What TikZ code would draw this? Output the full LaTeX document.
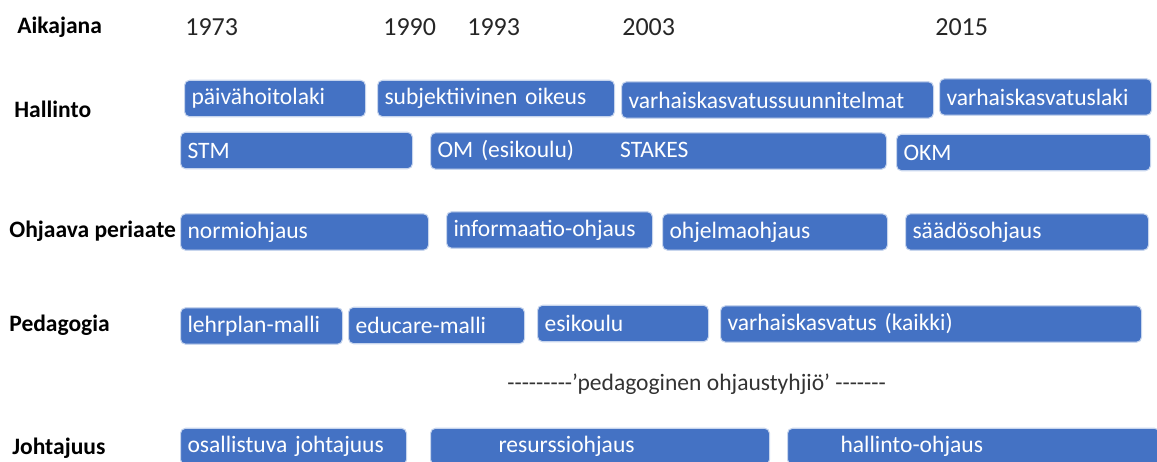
\documentclass[tikz,border=0pt]{standalone}
\usepackage{fontspec}
\setmainfont{Carlito}
\definecolor{boxblue}{HTML}{4472C4}
\begin{document}
\begin{tikzpicture}[x=0.02cm,y=-0.02cm,font=\fontsize{13.4}{16}\selectfont,
	box/.style={draw=white!70!boxblue, line width=0.6pt, fill=boxblue, text=white, rounded corners=0.1cm, anchor=west, minimum height=0.73cm, inner xsep=0.14cm, inner ysep=0pt, align=left, text width=#1*0.02cm-0.28cm},
	rowlabel/.style={anchor=west, inner sep=0pt, font=\fontsize{13.4}{16}\selectfont\bfseries},
	year/.style={anchor=west, inner sep=0pt, text=black!85, font=\fontsize{14.8}{17}\selectfont}]
	\useasboundingbox (0,0) rectangle (1157,462);
	%row labels----------------------------
	\node[rowlabel] (aikajana) at (17,27) {Aikajana};
	\node[rowlabel] (hallinto) at (14,109) {Hallinto};
	\node[rowlabel] (ohjaava) at (9,231) {Ohjaava periaate};
	\node[rowlabel] (pedagogia) at (9,325) {Pedagogia};
	\node[rowlabel] (johtajuus) at (12,448) {Johtajuus};
	%timeline years------------------------
	\node[year] (y1973) at (185,27) {1973};
	\node[year] (y1990) at (383,27) {1990};
	\node[year] (y1993) at (467,27) {1993};
	\node[year] (y2003) at (622,27) {2003};
	\node[year] (y2015) at (935,27) {2015};
	%Hallinto------------------------------
		%laws
		\node[box=181] (paivahoitolaki) at (184,98.5) {päivähoitolaki};
		\node[box=237] (subjoikeus) at (377,98.5) {subjektiivinen oikeus};
		\node[box=312] (vasu) at (621,100) {varhaiskasvatussuunnitelmat};
		\node[box=212] (vklaki) at (939,97) {varhaiskasvatuslaki};
		%ministries
		\node[box=232] (stm) at (180,150.5) {STM};
		\node[box=456] (om) at (430,151) {OM (esikoulu)\hspace*{0.92cm}STAKES};
		\node[box=254] (okm) at (896,152.5) {OKM};
	%Ohjaava periaate----------------------
		\node[box=248] (normi) at (180,232) {normiohjaus};
		\node[box=206] (informaatio) at (446,230) {informaatio-ohjaus};
		\node[box=225] (ohjelma) at (662,232) {ohjelmaohjaus};
		\node[box=243] (saados) at (905,232) {säädösohjaus};
	%Pedagogia-----------------------------
		\node[box=162] (lehrplan) at (180,326) {lehrplan-malli};
		\node[box=176] (educare) at (348,325.5) {educare-malli};
		\node[box=171] (esikoulu) at (537,323.5) {esikoulu};
		\node[box=421] (vkkaikki) at (720,324) {varhaiskasvatus (kaikki)};
		%gap label
		\node[anchor=west, inner sep=0pt, text=black!80] (tyhjio) at (507,384) {-{}-{}-{}-{}-{}-{}-{}-{}-’pedagoginen ohjaustyhjiö’ -{}-{}-{}-{}-{}-{}-};
	%Johtajuus-----------------------------
		\node[box=226] (osallistuva) at (180,446.5) {osallistuva johtajuus};
		\node[box=339] (resurssi) at (430,446.5) {\hspace*{1.22cm}resurssiohjaus};
		\node[box=372] (hallintoohj) at (787,446.5) {\hspace*{0.92cm}hallinto-ohjaus};
\end{tikzpicture}
\end{document}
